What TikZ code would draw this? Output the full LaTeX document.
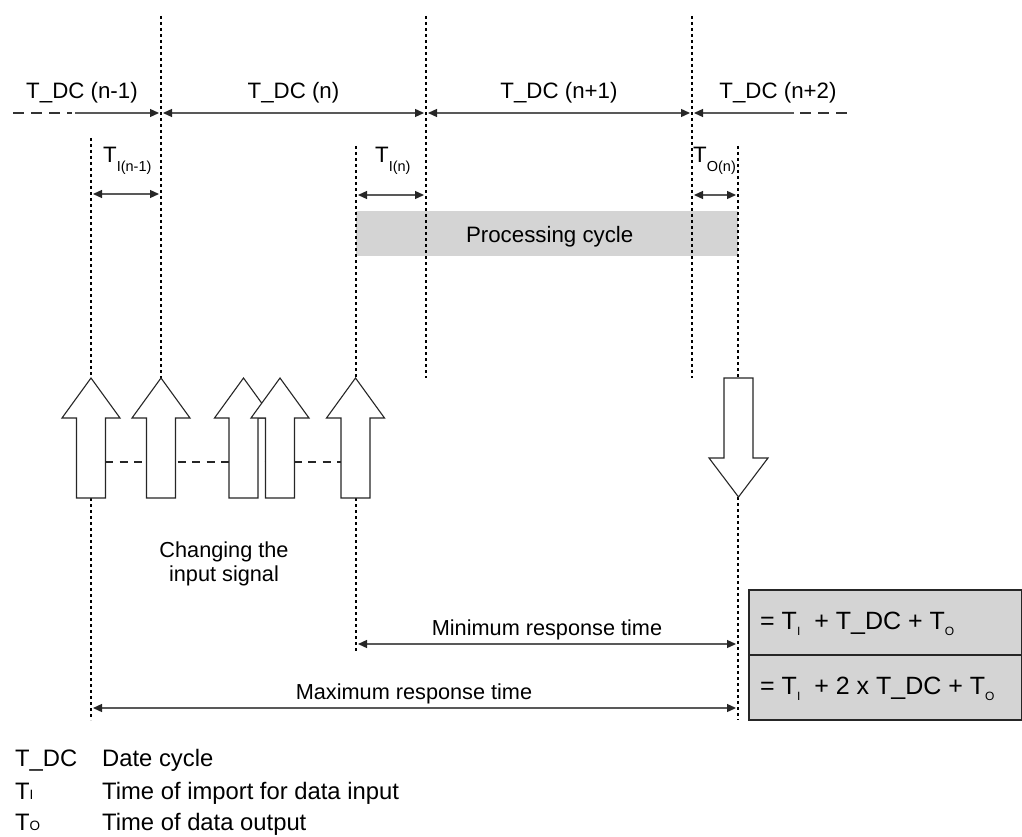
\documentclass[tikz,border=0pt]{standalone}
\usepackage{fontspec}
\setmainfont{Liberation Sans}
\usetikzlibrary{arrows.meta}
\newcommand{\lsub}[1]{\raisebox{-8.5pt}{\fontsize{14.5}{15}\selectfont #1}}
\newcommand{\fsub}[1]{\raisebox{-6.5pt}{\fontsize{12}{12}\selectfont #1}}
\newcommand{\gsub}[1]{{\fontsize{13.5}{13.5}\selectfont #1}}
\begin{document}
\begin{tikzpicture}[x=1pt,y=-1pt,
  vline/.style={line width=2.3pt, dash pattern=on 3.2pt off 2.8pt, black},
  sline/.style={line width=1.9pt, dash pattern=on 3pt off 3pt, black},
  dim/.style={line width=1.3pt, draw=black!65, shorten <=2pt, shorten >=2pt,
     {Triangle[length=9pt,width=8pt,color=black!85]}-{Triangle[length=9pt,width=8pt,color=black!85]}},
  dimr/.style={line width=1.3pt, draw=black!65, shorten >=2pt,
     -{Triangle[length=9pt,width=8pt,color=black!85]}},
  ext/.style={line width=1.4pt, draw=black!80, dash pattern=on 11pt off 7pt},
  sigdash/.style={line width=1.6pt, black!85, dash pattern=on 8pt off 6.5pt},
  bigarr/.style={draw=black!85, line width=1.1pt, fill=white},
  lbl/.style={inner sep=0pt, anchor=base, font=\fontsize{22.3}{26}\selectfont},
  lgd/.style={inner sep=0pt, anchor=base west, font=\fontsize{23.8}{27}\selectfont},
  ftxt/.style={inner sep=0pt, anchor=base west, font=\fontsize{25}{28}\selectfont},
  procbox/.style={fill=black!17, inner sep=0pt, anchor=north west, minimum width=382pt, minimum height=45pt},
  fbox/.style={draw=black!85, line width=1.5pt, fill=black!17, inner sep=0pt, anchor=north west, minimum width=273pt, minimum height=65pt},
  uparr/.pic={\draw[bigarr] (-14.5,0) -- (14.5,0) -- (14.5,-80) -- (29,-80) -- (0,-120) -- (-29,-80) -- (-14.5,-80) -- cycle;},
  downarr/.pic={\draw[bigarr] (-14.5,0) -- (14.5,0) -- (14.5,80) -- (29.5,80) -- (0,119) -- (-29.5,80) -- (-14.5,80) -- cycle;}
]
\useasboundingbox (0,0) rectangle (1022,837);

% processing cycle box
\node[procbox] (proc) at (356,211) {};
\node[lbl] (proctxt) at (549.7,242) {Processing cycle};

% coordinates
\coordinate (A1) at (161,16);  \coordinate (A2) at (161,378);
\coordinate (B1) at (426,16);  \coordinate (B2) at (426,378);
\coordinate (C1) at (692,16);  \coordinate (C2) at (692,378);
\coordinate (P1) at (91,138);  \coordinate (P2) at (91,378);
\coordinate (P3) at (91,498);  \coordinate (P4) at (91,720);
\coordinate (Q1) at (356,146); \coordinate (Q2) at (356,378);
\coordinate (Q3) at (356,498); \coordinate (Q4) at (356,653);
\coordinate (R1) at (738,146); \coordinate (R2) at (738,378);
\coordinate (R3) at (738,497); \coordinate (R4) at (738,720);

% long dotted lines
\draw[vline] (A1) -- (A2);
\draw[vline] (B1) -- (B2);
\draw[vline] (C1) -- (C2);
% short dotted lines
\draw[sline] (P1) -- (P2);
\draw[sline] (P3) -- (P4);
\draw[sline] (Q1) -- (Q2);
\draw[sline] (Q3) -- (Q4);
\draw[sline] (R1) -- (R2);
\draw[sline] (R3) -- (R4);

% top row
\coordinate (tL0) at (13,113); \coordinate (tL1) at (72,113); \coordinate (tL2) at (75,113);
\coordinate (tA) at (161,113); \coordinate (tB) at (426,113); \coordinate (tC) at (692,113);
\coordinate (tR2) at (794,113); \coordinate (tR1) at (800,113); \coordinate (tR0) at (852,113);
\draw[ext] (tL0) -- (tL1);
\draw[dimr] (tL2) -- (tA);
\draw[dim] (tA) -- (tB);
\draw[dim] (tB) -- (tC);
\draw[dimr] (tR2) -- (tC);
\draw[ext] (tR1) -- (tR0);

\node[lbl] (l1) at (82,99) {T\_DC (n-1)};
\node[lbl] (l2) at (293.5,99) {T\_DC (n)};
\node[lbl] (l3) at (559,99) {T\_DC (n+1)};
\node[lbl] (l4) at (778,99) {T\_DC (n+2)};

% import/output intervals
\coordinate (i1a) at (91,194);  \coordinate (i1b) at (161,194);
\coordinate (i2a) at (356,195); \coordinate (i2b) at (426,195);
\coordinate (o1a) at (692,195); \coordinate (o1b) at (738,195);
\draw[dim] (i1a) -- (i1b);
\draw[dim] (i2a) -- (i2b);
\draw[dim] (o1a) -- (o1b);
\node[lbl, anchor=base west] (ti1) at (103,163) {T\lsub{I(n-1)}};
\node[lbl, anchor=base west] (ti2) at (375,163) {T\lsub{I(n)}};
\node[lbl, anchor=base west] (to1) at (693,163) {T\lsub{O(n)}};

% input signal changes
\coordinate (s1) at (105,462); \coordinate (s2) at (341,462);
\draw[sigdash] (s1) -- (s2);
\pic at (91,498) {uparr};
\pic at (161,498) {uparr};
\pic at (243.5,498) {uparr};
\pic at (280,498) {uparr};
\pic at (355.5,498) {uparr};
\pic at (738.5,378) {downarr};

\node[lbl, align=center, font=\fontsize{21.7}{24}\selectfont, anchor=base] (chg) at (224,581.7) {Changing the\\input signal};

% response times
\coordinate (mn1) at (356,644); \coordinate (mn2) at (738,644);
\coordinate (mx1) at (91,708);  \coordinate (mx2) at (738,708);
\draw[dim] (mn1) -- (mn2);
\draw[dim] (mx1) -- (mx2);
\node[lbl, font=\fontsize{21.7}{26}\selectfont] (mnt) at (547,635) {Minimum response time};
\node[lbl, font=\fontsize{21.7}{26}\selectfont] (mxt) at (414,699) {Maximum response time};

% formula boxes
\node[fbox] (f1) at (748,589) {};
\node[fbox] (f2) at (748,654) {};
\node[ftxt] (f1t) at (760,629) {= T\fsub{I}\hspace{14pt}+ T\_DC + T\fsub{O}};
\node[ftxt] (f2t) at (760,694) {= T\fsub{I}\hspace{14pt}+ 2 x T\_DC + T\fsub{O}};

% legend
\node[lgd] (g1a) at (15,766) {T\_DC};
\node[lgd] (g1b) at (102,766) {Date cycle};
\node[lgd] (g2a) at (15,799) {T\gsub{I}};
\node[lgd] (g2b) at (102,799) {Time of import for data input};
\node[lgd] (g3a) at (15,830) {T\gsub{O}};
\node[lgd] (g3b) at (102,830) {Time of data output};
\end{tikzpicture}
\end{document}
